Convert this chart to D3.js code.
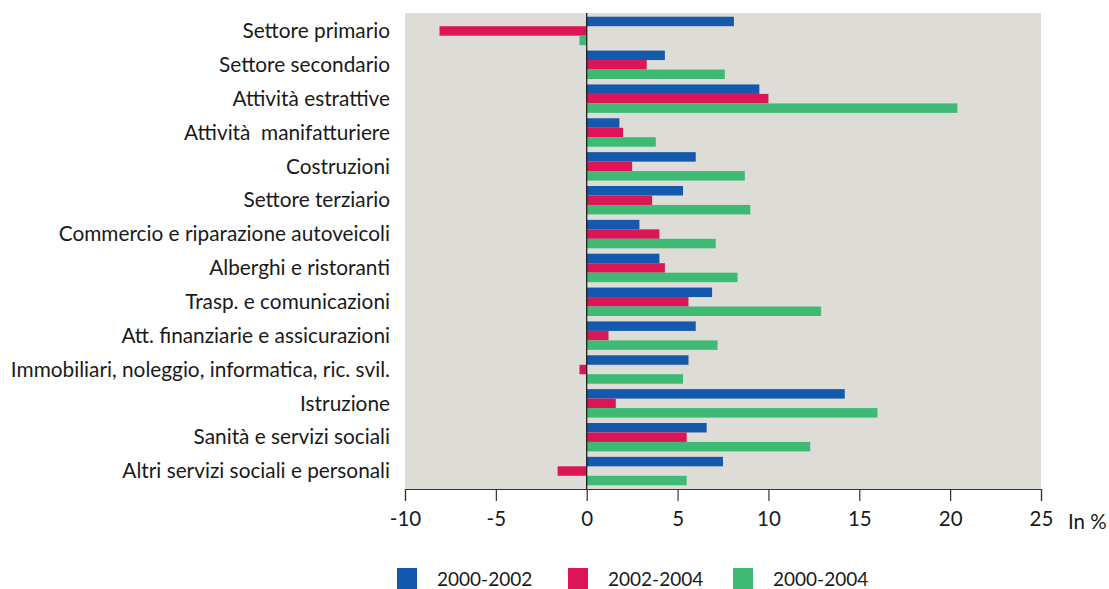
<!DOCTYPE html>
<html>
<head>
<meta charset="utf-8">
<script src="https://cdn.jsdelivr.net/npm/d3@7"></script>
<style>
  html, body { margin: 0; padding: 0; background: #ffffff; }
  svg { display: block; }
  text { font-family: Lato, "Open Sans", sans-serif; fill: #1a1a1a; }
</style>
</head>
<body>
<div id="chart"></div>
<script>
// Sectors, top to bottom
const categories = [
  "Settore primario",
  "Settore secondario",
  "Attività estrattive",
  "Attività  manifatturiere",
  "Costruzioni",
  "Settore terziario",
  "Commercio e riparazione autoveicoli",
  "Alberghi e ristoranti",
  "Trasp. e comunicazioni",
  "Att. finanziarie e assicurazioni",
  "Immobiliari, noleggio, informatica, ric. svil.",
  "Istruzione",
  "Sanità e servizi sociali",
  "Altri servizi sociali e personali"
];

// Percentage change per period
const v2000_2002 = [8.1, 4.3, 9.5, 1.8, 6.0, 5.3, 2.9, 4.0, 6.9, 6.0, 5.6, 14.2, 6.6, 7.5];
const v2002_2004 = [-8.1, 3.3, 10.0, 2.0, 2.5, 3.6, 4.0, 4.3, 5.6, 1.2, -0.4, 1.6, 5.5, -1.6];
const v2000_2004 = [-0.4, 7.6, 20.4, 3.8, 8.7, 9.0, 7.1, 8.3, 12.9, 7.2, 5.3, 16.0, 12.3, 5.5];

const seriesNames = ["2000-2002", "2002-2004", "2000-2004"];
const seriesValues = [v2000_2002, v2002_2004, v2000_2004];
const seriesColors = ["#1459ad", "#dc1556", "#3fba74"];

const xTicks = [-10, -5, 0, 5, 10, 15, 20, 25];
const xDomain = [-10, 25];
const unitLabel = "In %";

const W = 1109, H = 589;
const plot = { left: 405, right: 1041, top: 13, bottom: 489 };

const svg = d3.select("#chart").append("svg")
  .attr("width", W).attr("height", H);

const x = d3.scaleLinear().domain(xDomain).range([plot.left, plot.right]);
const y = d3.scaleBand().domain(categories)
  .range([plot.top, plot.bottom])
  .paddingInner(0.16).paddingOuter(0.11);
const ySub = d3.scaleBand().domain(d3.range(seriesNames.length))
  .range([0, y.bandwidth()]);

// Plot background
svg.append("rect")
  .attr("x", plot.left).attr("y", plot.top)
  .attr("width", plot.right - plot.left)
  .attr("height", plot.bottom - plot.top)
  .attr("fill", "#dddcd6");

// Bars
const rows = categories.map((c, i) => ({ c, vals: seriesValues.map(s => s[i]) }));
const groups = svg.append("g").selectAll("g").data(rows).join("g")
  .attr("transform", d => `translate(0,${y(d.c)})`);

groups.selectAll("rect")
  .data(d => d.vals.map((v, k) => ({ v, k })))
  .join("rect")
  .attr("x", d => x(Math.min(0, d.v)))
  .attr("y", d => ySub(d.k))
  .attr("width", d => Math.abs(x(d.v) - x(0)))
  .attr("height", ySub.bandwidth())
  .attr("fill", d => seriesColors[d.k]);

// Zero line
svg.append("line")
  .attr("x1", x(0)).attr("x2", x(0))
  .attr("y1", plot.top).attr("y2", plot.bottom)
  .attr("stroke", "#111").attr("stroke-width", 1.2);

// Category labels
svg.append("g").selectAll("text").data(categories).join("text")
  .attr("x", 390)
  .attr("y", d => y(d) + y.bandwidth() / 2)
  .attr("dy", "0.35em")
  .attr("text-anchor", "end")
  .attr("font-size", 20.8)
  .style("white-space", "pre")
  .text(d => d);

// X axis
const xAxis = d3.axisBottom(x).tickValues(xTicks).tickSize(12).tickPadding(10).tickFormat(d => String(d));
const gx = svg.append("g")
  .attr("transform", `translate(0,${plot.bottom})`)
  .call(xAxis);
gx.select(".domain").attr("stroke", "#333").attr("stroke-width", 1.2);
gx.selectAll(".tick line").attr("stroke", "#333").attr("stroke-width", 1.2);
gx.selectAll(".tick text")
  .attr("font-family", "Lato, 'Open Sans', sans-serif")
  .attr("font-size", 20.5).attr("fill", "#1a1a1a");

svg.append("text")
  .attr("x", 1068).attr("y", 522).attr("dy", "0.35em")
  .attr("font-size", 20.5)
  .text(unitLabel);

// Legend
const legendX = [397, 568, 733];
const lg = svg.append("g").selectAll("g").data(seriesNames).join("g")
  .attr("transform", (d, i) => `translate(${legendX[i]},568)`);
lg.append("rect")
  .attr("width", 20).attr("height", 21)
  .attr("fill", (d, i) => seriesColors[i]);
lg.append("text")
  .attr("x", 40).attr("y", 11).attr("dy", "0.35em")
  .attr("font-size", 19)
  .text(d => d);
</script>
</body>
</html>
